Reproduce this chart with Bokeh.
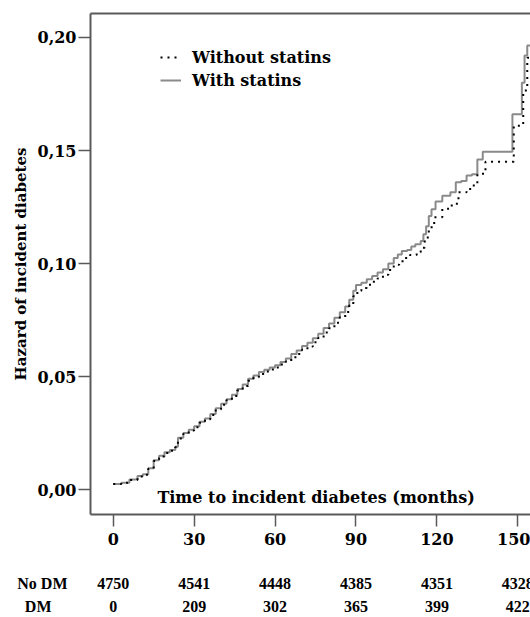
from bokeh.plotting import figure
from bokeh.layouts import column
from bokeh.models import (FixedTicker, CustomJSTickFormatter, LinearAxis,
                          Label, Legend, LegendItem, Range1d)
from bokeh.core.properties import value
from bokeh.embed import file_html
from bokeh.resources import INLINE

# ---- data ----
time_with = [0, 3, 6, 9, 11, 13, 15, 17, 19, 21, 23, 24, 26, 28, 30, 32, 34, 36, 38, 40,
             42, 44, 46, 48, 50, 52, 54, 56, 58, 60, 62, 64, 66, 68, 70, 72, 74, 76, 78, 80,
             82, 84, 86, 87.5, 89, 90, 92, 94, 96, 98, 100, 102, 104, 105.5, 107, 109, 110.5,
             112, 114, 115, 116, 117, 118, 119.5, 122, 125, 127, 129, 131, 133, 135, 137,
             148, 151.5, 152.5, 153.5, 156]
haz_with = [0.0025, 0.0030, 0.0045, 0.0060, 0.0068, 0.0095, 0.0130, 0.0150, 0.0165, 0.0175,
            0.0190, 0.0230, 0.0250, 0.0265, 0.0280, 0.0300, 0.0315, 0.0335, 0.0360, 0.0380,
            0.0400, 0.0420, 0.0445, 0.0465, 0.0490, 0.0505, 0.0520, 0.0530, 0.0540, 0.0550,
            0.0565, 0.0580, 0.0600, 0.0615, 0.0635, 0.0650, 0.0670, 0.0690, 0.0715, 0.0735,
            0.0760, 0.0785, 0.0810, 0.0840, 0.0880, 0.0905, 0.0915, 0.0930, 0.0945, 0.0960,
            0.0975, 0.1000, 0.1025, 0.1040, 0.1055, 0.1060, 0.1075, 0.1085, 0.1100, 0.1130,
            0.1165, 0.1210, 0.1240, 0.1275, 0.1300, 0.1315, 0.1360, 0.1365, 0.1390, 0.1395,
            0.1460, 0.1495, 0.1660, 0.1800, 0.1920, 0.1965, 0.1965]

time_without = [0, 3, 6, 9, 11, 13, 15, 17, 19, 21, 23, 24, 26, 28, 30, 32, 34, 36, 38, 40,
                42, 44, 46, 48, 50, 52, 54, 56, 58, 60, 62, 64, 66, 68, 70, 72, 74, 76, 78, 80,
                82, 84, 86, 87.5, 89, 90.5, 92, 94, 96, 98, 100, 102, 104, 106, 108, 110, 112.5,
                114, 115.5, 117, 119, 122, 125.5, 128, 131, 133, 135, 138, 148.5, 152, 153.5, 156]
haz_without = [0.0025, 0.0030, 0.0043, 0.0058, 0.0066, 0.0092, 0.0127, 0.0147, 0.0162, 0.0172,
               0.0187, 0.0226, 0.0246, 0.0261, 0.0276, 0.0296, 0.0311, 0.0330, 0.0355, 0.0375,
               0.0395, 0.0414, 0.0438, 0.0458, 0.0482, 0.0497, 0.0512, 0.0522, 0.0531, 0.0540,
               0.0553, 0.0567, 0.0586, 0.0600, 0.0619, 0.0633, 0.0652, 0.0671, 0.0695, 0.0714,
               0.0738, 0.0762, 0.0786, 0.0815, 0.0855, 0.0880, 0.0892, 0.0906, 0.0920, 0.0934,
               0.0950, 0.0972, 0.0995, 0.1010, 0.1025, 0.1038, 0.1050, 0.1070, 0.1115, 0.1160,
               0.1205, 0.1242, 0.1265, 0.1315, 0.1330, 0.1345, 0.1397, 0.1450, 0.1610, 0.1765,
               0.1910, 0.1910]

series_labels = ["Without statins", "With statins"]
x_ticks = [0, 30, 60, 90, 120, 150]
y_ticks = [0.0, 0.05, 0.10, 0.15, 0.20]
x_title = "Time to incident diabetes (months)"
y_title = "Hazard of incident diabetes"

risk_times = [0, 30, 60, 90, 120, 150]
no_dm = [4750, 4541, 4448, 4385, 4351, 4328]
dm = [0, 209, 302, 365, 399, 422]
row_labels = ["No DM", "DM"]

# ---- styling ----
AX = "#5a5a5a"
SERIF = "DejaVu Serif"
TABLE_FONT = "Liberation Serif"
W = 530
H_MAIN = 560
H_TABLE = 57

p = figure(width=W, height=H_MAIN, output_backend="svg", toolbar_location=None,
           x_range=Range1d(-8.42, 154.7), y_range=Range1d(-0.011, 0.2106),
           min_border_left=90, min_border_right=0, min_border_top=13,
           min_border_bottom=H_MAIN - 514)
p.outline_line_color = None
p.grid.visible = False
p.background_fill_color = "white"
p.border_fill_color = "white"

r_with = p.step(time_with, haz_with, mode="after", line_color="#8a8a8a", line_width=2)
r_without = p.step(time_without, haz_without, mode="after", line_color="black",
                   line_width=2, line_dash="2 5")

def style_axis(ax, size="16px"):
    ax.axis_line_color = AX
    ax.axis_line_width = 2
    ax.major_tick_line_color = AX
    ax.major_tick_line_width = 1.5
    ax.major_tick_in = 0
    ax.major_tick_out = 12
    ax.minor_tick_in = 0
    ax.minor_tick_out = 0
    ax.major_label_text_font = SERIF
    ax.major_label_text_font_style = "bold"
    ax.major_label_text_font_size = size
    ax.major_label_text_color = "black"

xa = p.xaxis[0]
xa.ticker = FixedTicker(ticks=x_ticks)
style_axis(xa, "16px")
xa.major_label_standoff = 6

ya = p.yaxis[0]
ya.ticker = FixedTicker(ticks=y_ticks)
ya.formatter = CustomJSTickFormatter(code="return tick.toFixed(2).replace('.', ',');")
style_axis(ya, "16px")
ya.major_label_standoff = 2
ya.axis_label = y_title
ya.axis_label_text_font = SERIF
ya.axis_label_text_font_style = "bold"
ya.axis_label_text_font_size = "15px"
ya.axis_label_text_color = "black"
ya.axis_label_standoff = 5

top = LinearAxis(ticker=FixedTicker(ticks=[]), major_label_text_font_size="0px",
                 major_tick_out=0, major_tick_in=0, minor_tick_out=0, minor_tick_in=0,
                 major_label_standoff=0, axis_line_color=AX, axis_line_width=2)
p.add_layout(top, "above")

legend = Legend(items=[LegendItem(label=series_labels[0], renderers=[r_without]),
                       LegendItem(label=series_labels[1], renderers=[r_with])],
                location=(70, 424), padding=0, margin=0, spacing=3,
                glyph_width=21, glyph_height=20, label_height=20, label_standoff=11,
                border_line_color=None, background_fill_alpha=0,
                label_text_font=SERIF, label_text_font_style="bold",
                label_text_font_size="16px", label_text_color="black")
p.add_layout(legend)

p.add_layout(Label(x=75.2, y=-0.0035, text=x_title, text_align="center", text_baseline="middle",
                   text_font=SERIF, text_font_style="bold", text_font_size="16px",
                   text_color="black"))

# ---- number-at-risk table (strip sharing the month scale of the chart) ----
ROW_Y = [34, 11]
t = figure(width=W, height=H_TABLE, output_backend="svg", toolbar_location=None,
           x_range=p.x_range, y_range=Range1d(0, H_TABLE), x_axis_type=None,
           min_border_left=90, min_border_right=0, min_border_top=0, min_border_bottom=0)
t.outline_line_color = None
t.grid.visible = False
t.background_fill_color = "white"
t.border_fill_color = "white"

ta = t.yaxis[0]
ta.ticker = FixedTicker(ticks=ROW_Y)
ta.major_label_overrides = {ROW_Y[0]: row_labels[0],
                            ROW_Y[1]: row_labels[1] + "\u00a0\u00a0\u00a0\u00a0"}
ta.axis_line_color = None
ta.major_tick_line_color = None
ta.minor_tick_line_color = None
ta.major_tick_out = 0
ta.major_tick_in = 0
ta.minor_tick_out = 0
ta.minor_tick_in = 0
ta.major_label_standoff = 23
ta.major_label_text_font = TABLE_FONT
ta.major_label_text_font_style = "bold"
ta.major_label_text_font_size = "16px"
ta.major_label_text_color = "black"

for vals, ry in [(no_dm, ROW_Y[0]), (dm, ROW_Y[1])]:
    t.text(x=risk_times, y=[ry] * len(risk_times), text=[str(v) for v in vals],
           text_align="center", text_baseline="middle", text_font=value(TABLE_FONT),
           text_font_style="bold", text_font_size="16px", text_color="black")

layout = column(p, t, spacing=0)
open("out.html", "w").write(file_html(layout, INLINE))
